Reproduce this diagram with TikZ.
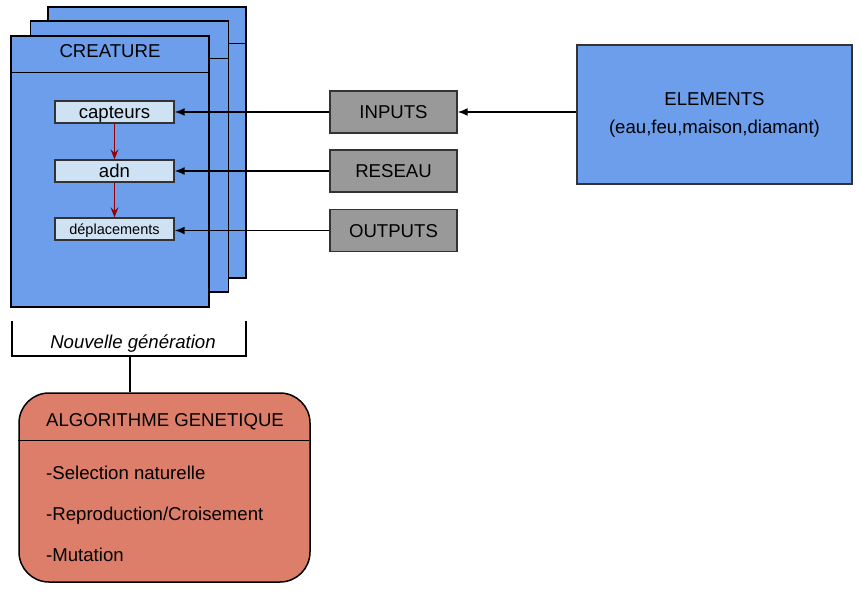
\documentclass[tikz,border=0pt]{standalone}
\usepackage{fontspec}
\setmainfont{Liberation Sans}
\usetikzlibrary{arrows.meta}
\definecolor{cblue}{HTML}{6D9EEB}
\definecolor{lblue}{HTML}{CFE2F3}
\definecolor{cgray}{HTML}{999999}
\definecolor{salmon}{HTML}{DD7E6B}
\definecolor{dred}{HTML}{990000}
\tikzset{
  txt/.style={font=\fontsize{18.6}{22}\selectfont, inner sep=0pt, text height=13.3pt, text depth=0pt},
  card/.style={draw=black, fill=cblue, line width=1.5pt, minimum width=198pt, minimum height=271pt, inner sep=0pt},
  smallbox/.style={draw=black!80, fill=lblue, line width=1.4pt, minimum width=119pt, minimum height=22pt, inner sep=0pt},
  graybox/.style={draw=black!80, fill=cgray, line width=1.4pt, minimum width=127pt, minimum height=42pt, inner sep=0pt, font=\fontsize{18.6}{22}\selectfont, text height=13.3pt, text depth=0pt},
  redarrow/.style={draw=dred, line width=1.3pt, -{Stealth[length=10pt,width=8pt,inset=3.5pt]}},
  blackarrow/.style={draw=black, line width=1.5pt, -{Latex[length=10pt,width=8pt]}},
  plain/.style={draw=black, line width=1.4pt}
}
\begin{document}
\begin{tikzpicture}[x=1pt,y=-1pt]
\useasboundingbox (0,0) rectangle (861,593);
% stacked cards
\node[card] (c3) at (147,142.5) {};
\draw[plain] (c3.north west) ++(0,37) -- ++(198,0);
\node[card] (c2) at (129.5,156.5) {};
\draw[plain] (c2.north west) ++(0,38) -- ++(199,0);
\node[card] (c1) at (110,171.5) {};
\draw[plain] (c1.north west) ++(0,37) -- ++(198,0);
\node[txt] (ct) at (110,51) {CREATURE};
% inner boxes
\node[smallbox, txt, inner sep=0pt] (cap) at (114.5,112) {capteurs};
\node[smallbox, txt] (adn) at (114.5,171) {adn};
\node[smallbox, font=\fontsize{14.5}{16}\selectfont, text height=10.4pt, text depth=0pt] (dep) at (114.5,229) {déplacements};
\draw[redarrow] (cap) -- (adn);
\draw[redarrow] (adn) -- (dep);
% gray boxes
\node[graybox] (inp) at (393.5,112) {INPUTS};
\node[graybox] (res) at (393.5,171) {RESEAU};
\node[graybox] (out) at (393.5,230.5) {OUTPUTS};
\draw[blackarrow] (inp.west) -- (inp.west -| cap.east);
\draw[blackarrow] (res.west) -- (res.west -| adn.east);
\draw[blackarrow] (out.west) -- (out.west -| dep.east);
% elements
\node[draw=black!80, fill=cblue, line width=1.4pt, minimum width=275pt, minimum height=139pt, inner sep=0pt,
      align=center, font=\fontsize{18.6}{28}\selectfont] (el) at (714.5,114.5) {ELEMENTS\\(eau,feu,maison,diamant)};
\draw[blackarrow] (el.west |- inp.east) -- (inp.east);
% bracket
\coordinate (bl) at (12,321);
\coordinate (br) at (246,321);
\coordinate (bm) at (130,356);
\draw[plain] (bl) -- (12,356) -- (246,356) -- (br);
\node[txt, font=\fontsize{18.6}{22}\selectfont\itshape] (ng) at (133,342) {Nouvelle génération};
% algorithm box
\node[draw=black, fill=salmon, line width=1.5pt, rounded corners=30pt, minimum width=291pt, minimum height=189pt, inner sep=0pt] (algo) at (164.5,487.5) {};
\draw[plain] (bm) -- (bm |- algo.north);
\draw[plain] (algo.north west) ++(0,48) -- ++(291,0);
\node[txt, anchor=west] (at) at (46,420) {ALGORITHME GENETIQUE};
\node[txt, anchor=west] (a1) at (46,473) {-Selection naturelle};
\node[txt, anchor=west] (a2) at (46,514) {-Reproduction/Croisement};
\node[txt, anchor=west] (a3) at (46,555) {-Mutation};
\end{tikzpicture}
\end{document}
